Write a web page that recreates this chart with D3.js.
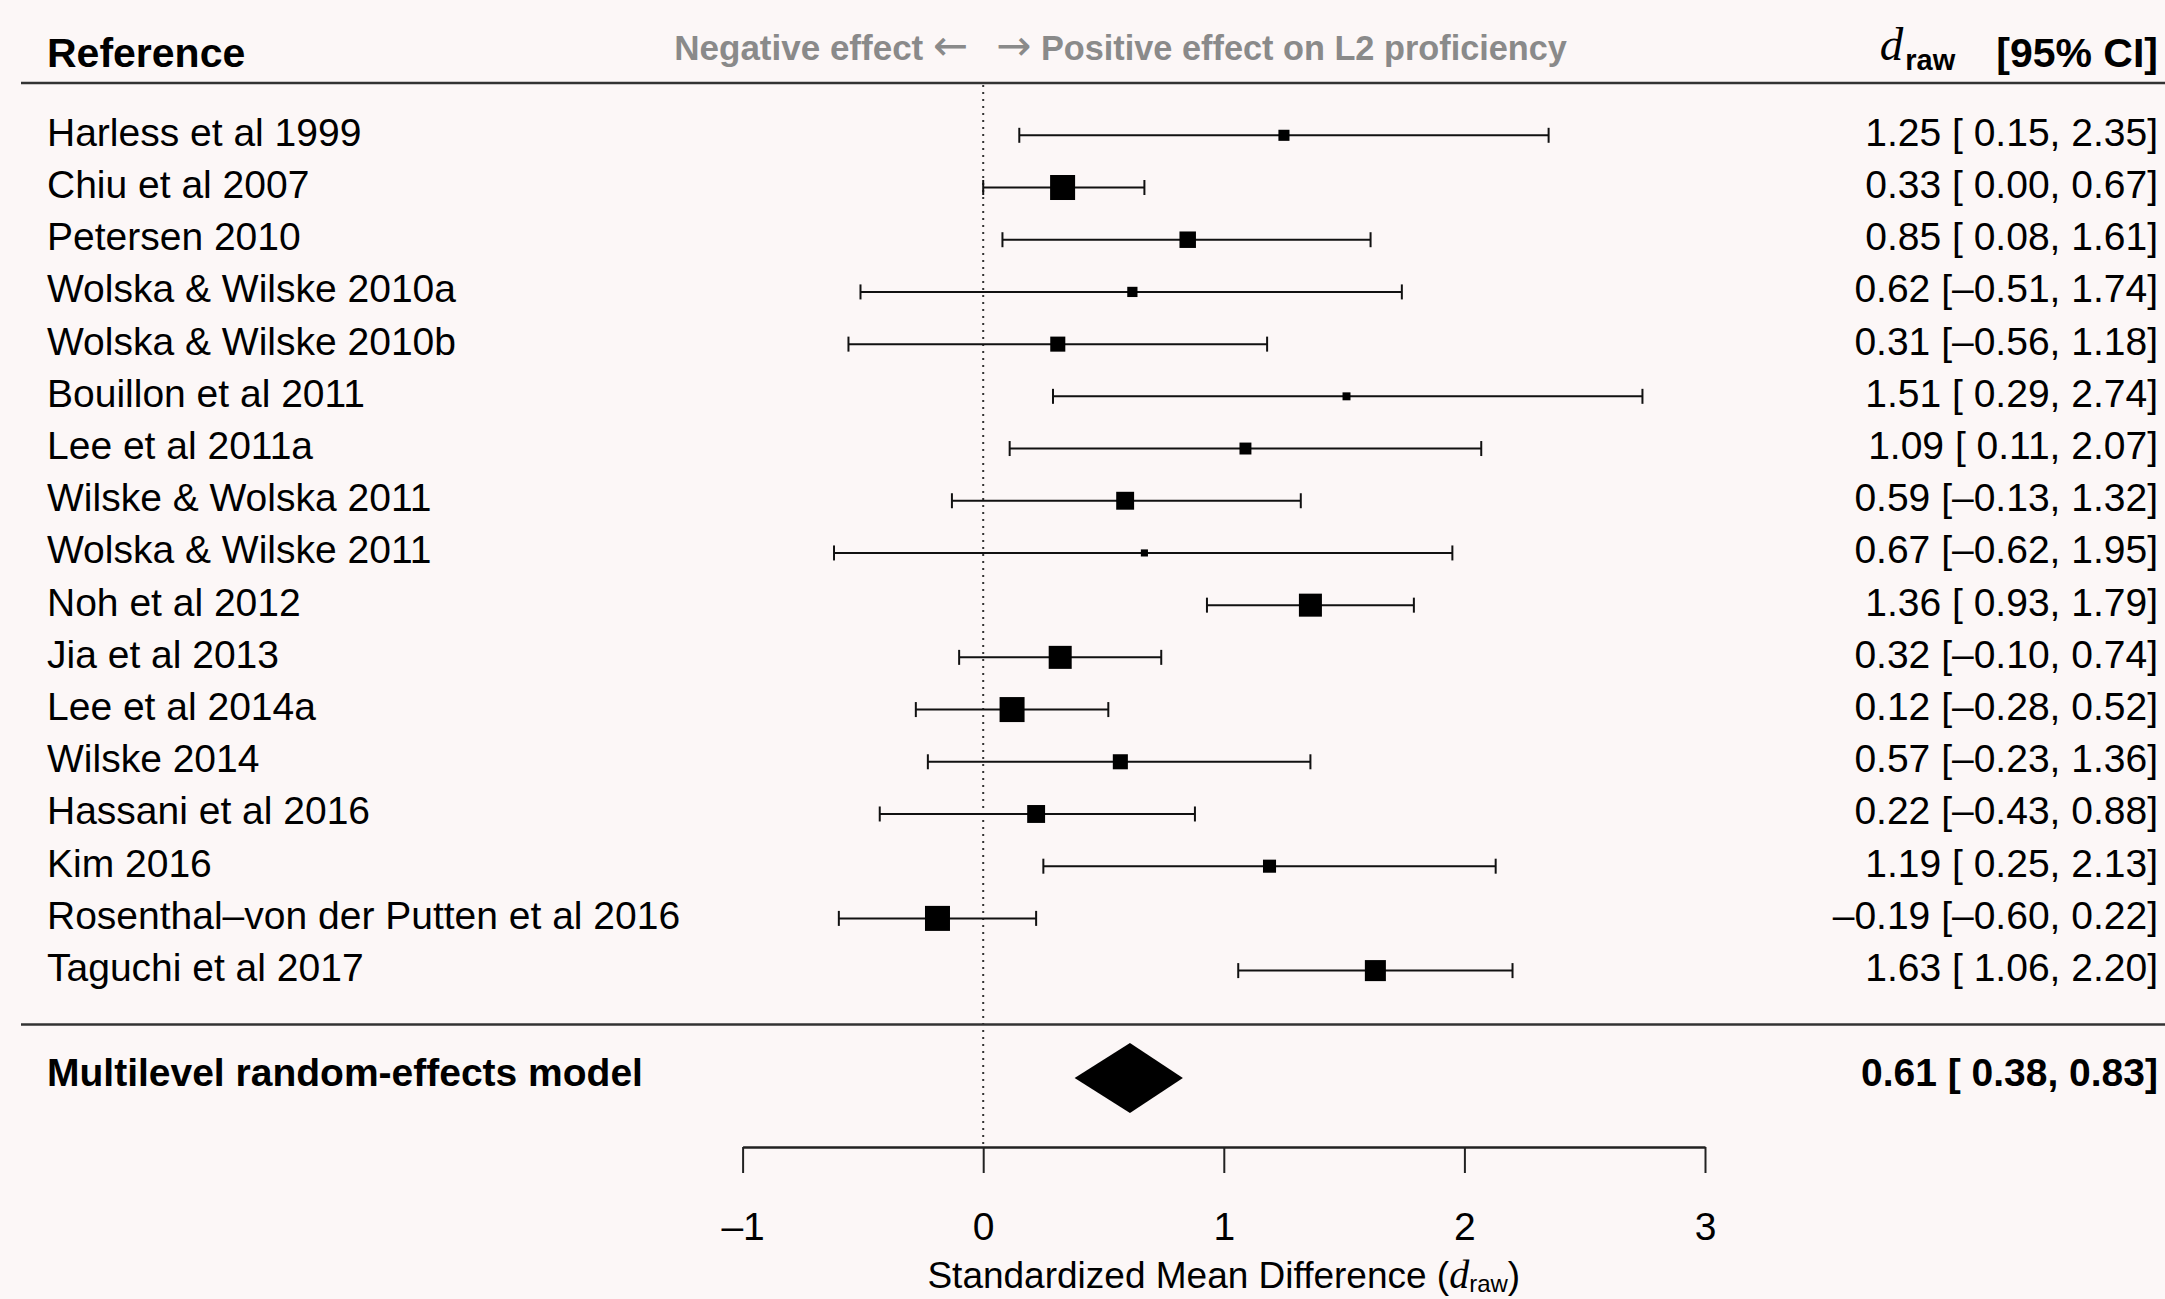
<!DOCTYPE html>
<html>
<head>
<meta charset="utf-8">
<script src="https://cdn.jsdelivr.net/npm/d3@7"></script>
<style>
  html, body { margin: 0; padding: 0; background: #fcf7f7; }
  svg { display: block; }
</style>
</head>
<body>
<svg id="chart" width="2165" height="1299"></svg>
<script>
// study labels, top to bottom
const studies = [
  "Harless et al 1999", "Chiu et al 2007", "Petersen 2010",
  "Wolska & Wilske 2010a", "Wolska & Wilske 2010b", "Bouillon et al 2011",
  "Lee et al 2011a", "Wilske & Wolska 2011", "Wolska & Wilske 2011",
  "Noh et al 2012", "Jia et al 2013", "Lee et al 2014a", "Wilske 2014",
  "Hassani et al 2016", "Kim 2016", "Rosenthal\u2013von der Putten et al 2016",
  "Taguchi et al 2017"
]
const estimates = [1.25, 0.33, 0.85, 0.62, 0.31, 1.51, 1.09, 0.59, 0.67, 1.36, 0.32, 0.12, 0.57, 0.22, 1.19, -0.19, 1.63]
const ciLower   = [0.15, 0.00, 0.08, -0.51, -0.56, 0.29, 0.11, -0.13, -0.62, 0.93, -0.10, -0.28, -0.23, -0.43, 0.25, -0.60, 1.06]
const ciUpper   = [2.35, 0.67, 1.61, 1.74, 1.18, 2.74, 2.07, 1.32, 1.95, 1.79, 0.74, 0.52, 1.36, 0.88, 2.13, 0.22, 2.20]
// relative weights (%)
const weights   = [3.9, 8.8, 5.8, 3.6, 5.3, 2.8, 4.2, 6.3, 2.5, 8.1, 8.1, 8.8, 5.3, 6.3, 4.6, 8.8, 7.4]

const modelLabel = "Multilevel random-effects model"
const modelValues = [0.61, 0.38, 0.83]   // estimate, lower, upper
const xTicks = [-1, 0, 1, 2, 3]

const svg = d3.select("#chart")
const W = 2165
const FONT = "Liberation Sans, Arial, Helvetica, sans-serif"
const SERIF = "Liberation Serif, Times New Roman, serif"

const x = d3.scaleLinear().domain([-1, 3]).range([742.6, 1705])
const y = d3.scalePoint().domain(studies).range([135.3, 970.6])
const size = d3.scaleLinear().domain([0, 8.8]).range([0, 25])

const f2 = d3.format(".2f")
const num = v => f2(v).replace("-", "\u2013").replace("\u2212", "\u2013")
const pad = v => (v < 0 ? "" : " ") + num(v)
const ciText = (e, lo, hi) => `${num(e)} [${pad(lo)}, ${num(hi)}]`

svg.append("rect").attr("width", W).attr("height", 1299).attr("fill", "#fcf7f7")

// header
svg.append("text").attr("x", 47).attr("y", 67)
  .style("font-family", FONT).style("font-size", "41px").style("font-weight", "bold")
  .text("Reference")

const neg = svg.append("text").attr("x", x(0) - 15).attr("y", 60)
  .attr("text-anchor", "end")
  .style("font-family", FONT).style("font-size", "35px").style("font-weight", "bold")
  .style("fill", "#8a8a8a")
neg.append("tspan").text("Negative effect ")
neg.append("tspan").style("font-family", "DejaVu Sans").style("font-weight", "normal")
  .style("font-size", "42px").text("\u2190")

const pos = svg.append("text").attr("x", x(0) + 13).attr("y", 60)
  .style("font-family", FONT).style("font-size", "34.3px").style("font-weight", "bold")
  .style("fill", "#8a8a8a")
pos.append("tspan").style("font-family", "DejaVu Sans").style("font-weight", "normal")
  .style("font-size", "42px").text("\u2192")
pos.append("tspan").text(" Positive effect on L2 proficiency")

const hdr = svg.append("text").attr("x", 2158).attr("y", 67)
  .attr("text-anchor", "end")
  .style("font-family", FONT).style("font-weight", "bold").style("font-size", "41px")
hdr.append("tspan")
  .style("font-family", SERIF)
  .style("font-style", "italic").style("font-weight", "normal").style("font-size", "47px")
  .attr("dy", -7)
  .text("d")
hdr.append("tspan").style("font-size", "29px").attr("dx", 2).attr("dy", 10).text("raw")
hdr.append("tspan").attr("dy", -3).text("\u2003[95% CI]")

svg.append("line").attr("x1", 21).attr("x2", W).attr("y1", 83).attr("y2", 83)
  .attr("stroke", "#333").attr("stroke-width", 2.5)

// reference line at zero
svg.append("line").attr("x1", x(0)).attr("x2", x(0)).attr("y1", 85).attr("y2", 1147)
  .attr("stroke", "#333").attr("stroke-width", 2).attr("stroke-dasharray", "2,5")

// rows
const rows = svg.append("g").selectAll("g")
  .data(studies.map((s, i) => ({ s, e: estimates[i], lo: ciLower[i], hi: ciUpper[i], w: weights[i] })))
  .enter().append("g")

rows.append("text").attr("x", 47).attr("y", d => y(d.s) + 10.5)
  .style("font-family", FONT).style("font-size", "39px")
  .text(d => d.s)

rows.append("text").attr("x", 2158).attr("y", d => y(d.s) + 10.5)
  .attr("text-anchor", "end")
  .style("font-family", FONT).style("font-size", "39px")
  .text(d => ciText(d.e, d.lo, d.hi))

rows.append("line").attr("x1", d => x(d.lo)).attr("x2", d => x(d.hi))
  .attr("y1", d => y(d.s)).attr("y2", d => y(d.s))
  .attr("stroke", "#111").attr("stroke-width", 2)
rows.selectAll(".cap").data(d => [[d.lo, d.s], [d.hi, d.s]]).enter().append("line")
  .attr("x1", d => x(d[0])).attr("x2", d => x(d[0]))
  .attr("y1", d => y(d[1]) - 7.5).attr("y2", d => y(d[1]) + 7.5)
  .attr("stroke", "#111").attr("stroke-width", 2)
rows.append("rect")
  .attr("x", d => x(d.e) - size(d.w) / 2).attr("y", d => y(d.s) - size(d.w) / 2)
  .attr("width", d => size(d.w)).attr("height", d => size(d.w))
  .attr("fill", "#000")

// separator and model row
svg.append("line").attr("x1", 21).attr("x2", W).attr("y1", 1024.5).attr("y2", 1024.5)
  .attr("stroke", "#333").attr("stroke-width", 2.5)

const modelY = 1078
svg.append("text").attr("x", 47).attr("y", modelY + 8)
  .style("font-family", FONT).style("font-size", "39px").style("font-weight", "bold")
  .text(modelLabel)
svg.append("text").attr("x", 2158).attr("y", modelY + 8)
  .attr("text-anchor", "end")
  .style("font-family", FONT).style("font-size", "39px").style("font-weight", "bold")
  .text(ciText(modelValues[0], modelValues[1], modelValues[2]))

svg.append("path")
  .datum([[modelValues[1], 0], [modelValues[0], -35], [modelValues[2], 0], [modelValues[0], 35]])
  .attr("d", d3.line().x(d => x(d[0])).y(d => modelY + d[1]).curve(d3.curveLinearClosed))
  .attr("fill", "#000")

// x axis
const axis = svg.append("g").attr("transform", "translate(0,1147)")
  .call(d3.axisBottom(x).tickValues(xTicks).tickSize(26).tickSizeOuter(0)
    .tickFormat(d => d < 0 ? "\u2013" + Math.abs(d) : String(d)))
axis.select(".domain").attr("stroke", "#222").attr("stroke-width", 2.5)
axis.selectAll(".tick line").attr("stroke", "#222").attr("stroke-width", 2)
axis.selectAll(".tick text").attr("y", 93).attr("dy", null)
  .style("font-family", FONT).style("font-size", "39px").attr("fill", "#000")

const title = svg.append("text").attr("x", x(1)).attr("y", 1288)
  .attr("text-anchor", "middle")
  .style("font-family", FONT).style("font-size", "37px")
title.append("tspan").text("Standardized Mean Difference (")
title.append("tspan").style("font-family", SERIF)
  .style("font-style", "italic").style("font-size", "40px").text("d")
title.append("tspan").style("font-size", "24px").attr("dy", 4).text("raw")
title.append("tspan").attr("dy", -4).text(")")
</script>
</body>
</html>
